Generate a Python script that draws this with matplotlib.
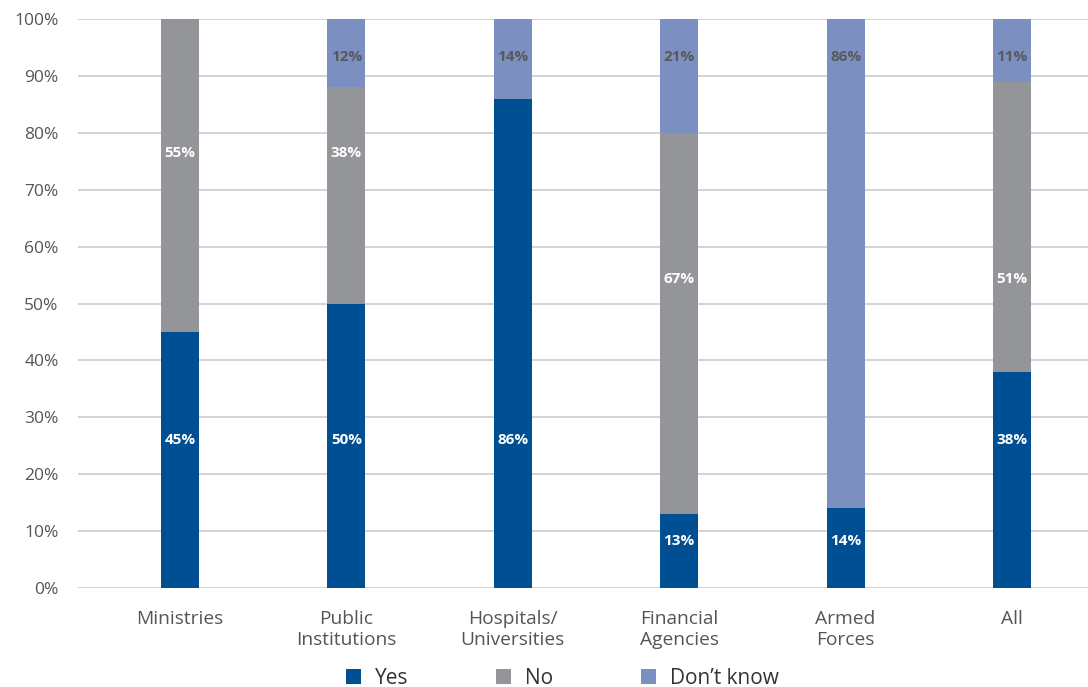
import matplotlib
matplotlib.use('Agg')
import matplotlib.pyplot as plt
import numpy as np

plt.rcParams['font.family'] = ['Open Sans', 'DejaVu Sans']

categories = ['Ministries', 'Public\nInstitutions', 'Hospitals/\nUniversities',
              'Financial\nAgencies', 'Armed\nForces', 'All']
yes = [45, 50, 86, 13, 14, 38]
no = [55, 38, 0, 67, 0, 51]
dont_know = [0, 12, 14, 21, 86, 11]

c_yes = '#004f93'
c_no = '#939598'
c_dk = '#7b8fc0'

fig = plt.figure(figsize=(10.88, 6.87), dpi=100)
ax = fig.add_axes([0.0717, 0.1441, 0.9283, 0.8282])

x = np.arange(len(categories))
w = 0.228
yes_a = np.array(yes)
no_a = np.array(no)
dk_a = np.array(dont_know)

ax.bar(x, yes_a, w, color=c_yes, label='Yes', zorder=3)
ax.bar(x, no_a, w, bottom=yes_a, color=c_no, label='No', zorder=3)
ax.bar(x, dk_a, w, bottom=yes_a + no_a, color=c_dk, label='Don\u2019t know', zorder=3)

# label heights (in % units) used for the value tags
yes_pos = [26, 26, 26, 8.3, 8.3, 26]
no_pos = [76.4, 76.4, None, 54.3, None, 54.3]
dk_pos = 93.3
for i in range(len(categories)):
    ax.text(x[i], yes_pos[i], f'{yes[i]}%', ha='center', va='center',
            color='white', fontsize=11, fontweight='bold', zorder=4)
    if no[i] > 0:
        ax.text(x[i], no_pos[i], f'{no[i]}%', ha='center', va='center',
                color='white', fontsize=11, fontweight='bold', zorder=4)
    if dont_know[i] > 0:
        ax.text(x[i], dk_pos, f'{dont_know[i]}%', ha='center', va='center',
                color='#58595b', fontsize=11, fontweight='bold', zorder=4)

ax.set_xlim(-0.613, 5.457)
ax.set_ylim(0, 100)
ax.set_yticks(range(0, 101, 10))
ax.set_yticklabels([f'{v}%' for v in range(0, 101, 10)], fontsize=12.5, color='#555555')
ax.set_xticks(x)
ax.set_xticklabels(categories, fontsize=13.8, color='#555555', linespacing=1.2)
ax.tick_params(axis='x', length=0, pad=16)
ax.tick_params(axis='y', length=0, pad=14)
ax.grid(axis='y', color='#d0d0d0', linewidth=1.3, zorder=0)
for s in ax.spines.values():
    s.set_visible(False)

fig.legend(loc='center', bbox_to_anchor=(0.517, 0.013), ncol=3, frameon=False,
           fontsize=15, handlelength=0.7, handleheight=0.7, columnspacing=4.2,
           handletextpad=0.7, labelcolor='#333333')

fig.savefig('out.png', dpi=100)
